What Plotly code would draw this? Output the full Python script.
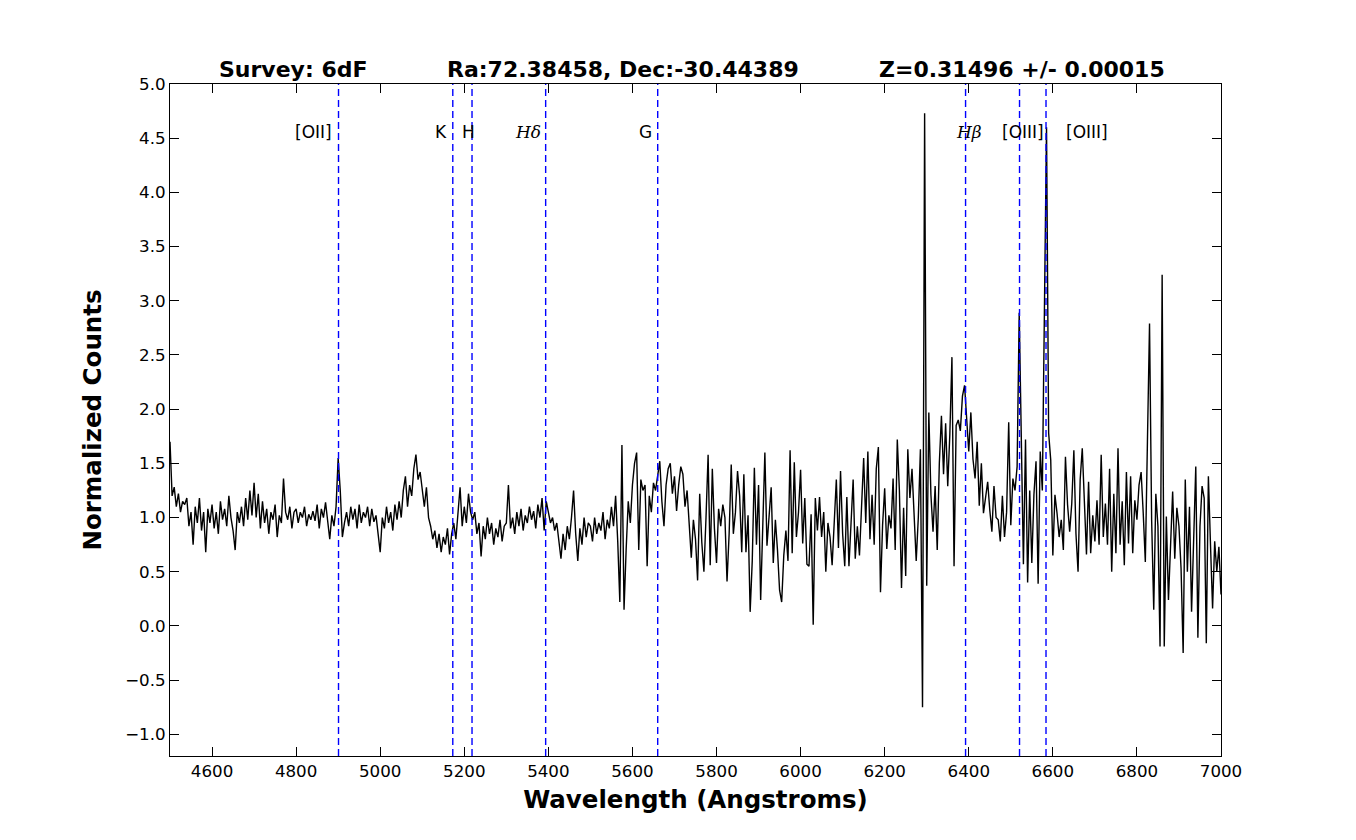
import plotly.graph_objects as go

# ---------------- data ----------------
WAVE_START = 4500   # Angstrom, first sample
WAVE_STEP = 5       # Angstrom per sample

flux = [
    # 4500-4595
    1.70, 1.20, 1.28, 1.10, 1.22, 1.05, 1.15, 1.12, 1.18, 0.92, 1.05, 0.75, 1.10, 0.95, 1.18, 0.88, 1.05, 0.68, 1.08, 0.95,
    # 4600-4695
    1.12, 0.90, 1.05, 0.85, 1.15, 0.98, 1.08, 0.92, 1.20, 1.00, 0.88, 0.70, 1.05, 0.95, 1.10, 0.92, 1.18, 0.98, 1.25, 1.02,
    # 4700-4795
    1.32, 1.00, 1.22, 0.90, 1.15, 0.95, 1.08, 0.85, 1.05, 0.98, 1.12, 0.82, 1.02, 0.95, 1.36, 1.05, 0.98, 1.10, 0.90, 1.05,
    # 4800-4895
    1.08, 0.95, 1.05, 1.00, 1.10, 0.92, 1.03, 0.98, 1.06, 0.97, 1.12, 0.90, 1.08, 1.00, 1.14, 0.95, 0.80, 1.02, 0.92, 1.10,
    # 4900-4995
    1.55, 1.25, 0.82, 0.95, 1.05, 0.92, 1.10, 0.98, 1.08, 0.90, 1.12, 0.95, 1.05, 1.00, 1.10, 0.92, 1.08, 0.96, 1.02, 0.85,
    # 5000-5095
    0.68, 1.00, 0.90, 1.10, 0.95, 1.05, 0.88, 1.12, 0.98, 1.15, 1.00, 1.25, 1.38, 1.10, 1.30, 1.20, 1.45, 1.58, 1.35, 1.42,
    # 5100-5195
    1.25, 1.10, 1.28, 1.00, 0.92, 0.80, 0.88, 0.72, 0.85, 0.68, 0.82, 0.75, 0.90, 0.66, 0.85, 0.95, 0.80, 1.05, 1.28, 0.92,
    # 5200-5295
    1.10, 0.95, 1.22, 1.05, 0.98, 1.05, 0.85, 0.95, 0.64, 0.92, 0.80, 1.00, 0.85, 0.95, 0.75, 0.90, 0.82, 0.98, 0.78, 0.92,
    # 5300-5395
    0.95, 1.30, 0.90, 1.00, 0.85, 1.05, 0.92, 1.08, 0.88, 1.02, 0.95, 1.10, 0.98, 1.06, 0.90, 1.12, 1.00, 1.18, 0.88, 1.15,
    # 5400-5495
    1.05, 0.95, 1.00, 0.88, 0.95, 0.78, 0.62, 0.85, 0.70, 0.92, 0.80, 1.00, 1.25, 0.85, 0.60, 0.90, 0.75, 1.00, 0.82, 0.95,
    # 5500-5595
    0.92, 0.78, 1.00, 0.85, 0.95, 0.88, 1.05, 0.80, 0.98, 0.90, 1.10, 0.92, 1.20, 0.78, 0.22, 1.67, 0.15, 0.70, 1.15, 0.95,
    # 5600-5695
    1.30, 1.50, 1.60, 0.70, 1.35, 1.25, 1.30, 0.55, 1.20, 1.05, 1.32, 1.25, 1.40, 1.52, 1.15, 0.92, 1.30, 1.45, 1.50, 1.22,
    # 5700-5795
    1.38, 1.06, 1.30, 1.47, 1.40, 1.10, 1.25, 0.95, 0.63, 0.98, 0.80, 0.42, 1.22, 0.77, 0.50, 1.00, 1.58, 0.56, 1.45, 0.90,
    # 5800-5895
    0.58, 1.08, 0.92, 1.12, 1.00, 0.41, 0.85, 1.49, 0.85, 1.05, 1.43, 1.20, 0.68, 1.40, 0.68, 1.02, 0.13, 0.60, 1.46, 0.75,
    # 5900-5995
    1.30, 0.24, 0.85, 1.60, 0.74, 0.98, 1.28, 0.58, 0.98, 0.70, 0.33, 0.22, 0.65, 0.88, 0.60, 1.62, 0.67, 1.51, 0.82, 1.05,
    # 6000-6095
    1.44, 0.76, 1.18, 0.57, 0.55, 1.03, 0.01, 1.18, 0.88, 1.19, 0.82, 1.05, 0.50, 0.95, 0.82, 0.56, 0.90, 1.35, 0.72, 1.43,
    # 6100-6195
    0.85, 0.55, 1.19, 0.55, 0.95, 1.35, 0.62, 0.92, 0.65, 1.07, 1.55, 0.95, 1.61, 0.80, 1.21, 0.75, 1.45, 1.65, 0.31, 0.93,
    # 6200-6295
    1.27, 0.71, 1.02, 0.90, 1.36, 0.70, 1.72, 1.25, 0.35, 1.09, 0.46, 1.63, 1.18, 1.45, 1.00, 0.60, 1.00, 1.63, -0.75, 4.73,
    # 6300-6395
    0.37, 1.97, 1.21, 0.87, 1.29, 0.70, 1.50, 1.94, 1.40, 1.87, 1.29, 1.77, 2.48, 0.55, 1.85, 1.90, 1.80, 2.12, 2.22, 1.94,
    # 6400-6495
    1.61, 1.97, 1.54, 1.36, 1.70, 1.11, 1.50, 1.04, 1.18, 1.33, 1.07, 0.87, 1.29, 1.00, 0.98, 0.78, 1.20, 0.82, 1.05, 1.88,
    # 6500-6595
    0.93, 1.36, 1.25, 1.47, 2.89, 1.72, 0.57, 1.72, 0.40, 1.25, 0.58, 1.21, 1.52, 0.39, 1.61, 1.25, 3.28, 4.60, 1.78, 1.53,
    # 6600-6695
    0.65, 1.21, 1.04, 0.82, 0.98, 0.70, 1.56, 1.12, 0.87, 1.13, 1.62, 0.85, 0.50, 1.35, 1.64, 1.16, 0.66, 1.33, 0.67, 1.02,
    # 6700-6795
    0.78, 1.16, 0.75, 1.58, 0.82, 1.13, 0.75, 1.45, 0.50, 1.22, 0.67, 1.64, 0.75, 1.15, 0.56, 1.42, 0.76, 1.38, 0.67, 1.16,
    # 6800-6895
    0.98, 1.30, 1.42, 1.04, 0.59, 1.70, 2.79, 0.98, 0.15, 1.22, 0.92, -0.19, 3.24, -0.19, 1.01, 0.24, 0.79, 1.24, 0.62, 1.09,
    # 6900-6995
    0.92, 0.53, -0.25, 1.35, 0.50, 1.10, 0.13, 0.73, 1.47, -0.11, 0.92, 1.29, 1.18, -0.16, 1.38, 0.75, 0.16, 0.78, 0.50, 0.73,
    # 7000
    0.29,
]
wavelength = [WAVE_START + i * WAVE_STEP for i in range(len(flux))]

REDSHIFT = 0.31496
line_labels = ["[OII]", "K", "H", "<i>Hδ</i>", "G", "<i>Hβ</i>", "[OIII]", "[OIII]"]
rest_wavelengths = [3727.0, 3933.7, 3968.5, 4101.7, 4304.4, 4861.3, 4958.9, 5006.8]
observed_wavelengths = [w * (1 + REDSHIFT) for w in rest_wavelengths]

title_parts = ["Survey: 6dF", "Ra:72.38458, Dec:-30.44389", "Z=0.31496 +/- 0.00015"]

x_ticks = [4600, 4800, 5000, 5200, 5400, 5600, 5800, 6000, 6200, 6400, 6600, 6800, 7000]
y_ticks = [-1.0, -0.5, 0.0, 0.5, 1.0, 1.5, 2.0, 2.5, 3.0, 3.5, 4.0, 4.5, 5.0]

# ---------------- style ----------------
X_RANGE = [4500, 7000]
Y_RANGE = [-1.2, 5.0]
LABEL_Y = 4.56
label_xshift = [-46, -20, -12, -33, -21, -12, -20, 18]   # px, left edge of text relative to line
label_fonts = ["DejaVu Sans", "DejaVu Sans", "DejaVu Sans", "DejaVu Serif",
               "DejaVu Sans", "DejaVu Serif", "DejaVu Sans", "DejaVu Sans"]
title_left_px = [217, 445, 877]  # window px, left edges of title pieces

BODY = 8  # default page body margin in the browser
W, H = 1356, 840
# target plot box in window pixels: left 170, right 1221, top 84, bottom 756
PL, PR, PT, PB = 170, 1221, 84, 756
ML = PL - BODY
MT = PT - BODY
MR = W - (PR - BODY)
MB = H - (PB - BODY)

fig = go.Figure()
fig.add_trace(go.Scatter(
    x=wavelength, y=flux, mode="lines",
    line=dict(color="black", width=1.4),
    showlegend=False, hoverinfo="skip",
))

shapes = []
annotations = []
for wl, lab, dx, fnt in zip(observed_wavelengths, line_labels, label_xshift, label_fonts):
    shapes.append(dict(
        type="line", xref="x", yref="paper", x0=wl, x1=wl, y0=0, y1=1,
        line=dict(color="#0000ff", width=1.4, dash="7px,4px"), layer="above",
    ))
    annotations.append(dict(
        x=wl, y=LABEL_Y, xref="x", yref="y", text=lab, showarrow=False,
        xanchor="left", yanchor="middle", xshift=dx,
        font=dict(family=fnt, size=17, color="black"),
    ))

plot_w = PR - PL
for txt, px in zip(title_parts, title_left_px):
    annotations.append(dict(
        x=(px - PL) / plot_w, y=1.0, xref="paper", yref="paper", yshift=0,
        text="<b>" + txt + "</b>", showarrow=False, xanchor="left", yanchor="bottom",
        font=dict(family="DejaVu Sans", size=22, color="black"),
    ))

axis_common = dict(
    showline=True, linecolor="black", linewidth=1, mirror="ticks",
    ticks="inside", ticklen=9, tickwidth=1, tickcolor="black",
    showgrid=False, zeroline=False,
    tickfont=dict(family="DejaVu Sans", size=16.7, color="black"),
)

fig.update_layout(
    width=W, height=H,
    margin=dict(l=ML, r=MR, t=MT, b=MB, pad=0),
    paper_bgcolor="white", plot_bgcolor="white",
    shapes=shapes, annotations=annotations,
    xaxis=dict(range=X_RANGE, tickvals=x_ticks, ticktext=[str(v) for v in x_ticks],
               title=dict(text="<b>Wavelength (Angstroms)</b>", standoff=10,
                          font=dict(family="DejaVu Sans", size=24.5, color="black")),
               **axis_common),
    yaxis=dict(range=Y_RANGE, tickvals=y_ticks, tickformat=".1f",
               title=dict(text="<b>Normalized Counts</b>", standoff=16,
                          font=dict(family="DejaVu Sans", size=24.5, color="black")),
               **axis_common),
)

fig.write_html("out.html")
